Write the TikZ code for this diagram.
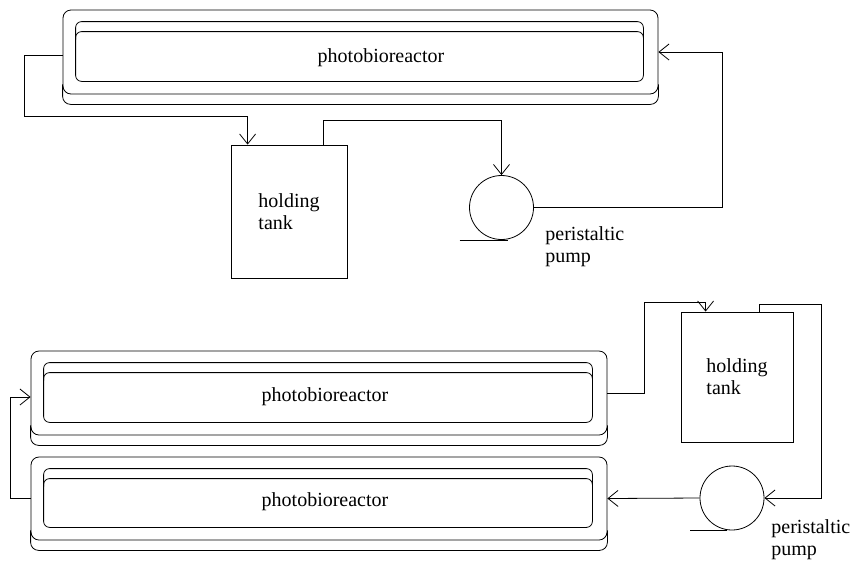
\documentclass[tikz,border=0pt]{standalone}
\usepackage{fontspec}
\setmainfont{Liberation Serif}
\usetikzlibrary{calc,arrows.meta}

\tikzset{
  reactor/.style={draw, rounded corners=8pt, inner sep=0pt, minimum height=84pt},
  tank/.style={draw, align=left, inner sep=0pt},
  pump/.style={draw, circle, minimum size=64pt, inner sep=0pt},
  lbl/.style={inner sep=0pt, align=left},
  flow/.style={-{Straight Barb[length=10pt,width=16pt]}}
}

\begin{document}
\begin{tikzpicture}[x=1pt,y=-1pt,line width=0.8pt,
  every node/.style={font=\fontsize{20}{22}\selectfont}]
\useasboundingbox (0,0) rectangle (854,566);

% first loop
\node (pbrA) [reactor, minimum width=595pt] at (360.5,52) {};
\node (pbrAtxt) [lbl] at (381,57.5) {photobioreactor};
\node (tankA) [tank, minimum width=116pt, minimum height=133pt] at (289,211.5) {holding\\tank};
\node (pumpA) [pump] at (501.5,207.5) {};
\node (pumpAtxt) [lbl, anchor=north west] at (545,226) {peristaltic\\pump};

% second loop
\node (pbrB) [reactor, minimum width=576pt] at (319,393) {};
\node (pbrBtxt) [lbl] at (325,397) {photobioreactor};
\node (pbrC) [reactor, minimum width=576pt, minimum height=83pt] at (319,498.5) {};
\node (pbrCtxt) [lbl] at (325,502) {photobioreactor};
\node (tankB) [tank, minimum width=112pt, minimum height=130pt] at (737,377) {holding\\tank};
\node (pumpB) [pump] at (732,498) {};
\node (pumpBtxt) [lbl, anchor=north west] at (771,519) {peristaltic\\pump};

% reactor tubes
\foreach \r in {pbrA,pbrB,pbrC}{
  \draw[rounded corners=8pt] ($(\r.south west)+(0,-10)$) |- ($(\r.south east)+(0,10)$) -- ($(\r.south east)+(0,-10)$);
  \draw[rounded corners=6pt] ($(\r.north west)+(13,22)$) rectangle ($(\r.south east)+(-15,-13)$);
  \draw[rounded corners=6pt] ($(\r.north west)+(13,30)$) |- ($(\r.north east)+(-15,12)$) -- ($(\r.north east)+(-15,30)$);
}

% pump feet
\draw ($(pumpA.south)+(-42,0)$) -- ($(pumpA.south)+(6,0)$);
\draw ($(pumpB.south)+(-42,0)$) -- ($(pumpB.south)+(-5,0)$);

% connectors
\coordinate (inA) at ($(tankA.north west)+(17,0)$);
\draw[flow] ($(pbrA.west)+(0,3)$) -- ++(-38,0) |- ($(inA)+(0,-28)$) -- (inA);
\draw[flow] ($(tankA.north east)+(-24,0)$) |- ($(pumpA.north)+(0,-55)$) -- (pumpA.north);
\draw[flow] (pumpA.east) -| ($(pbrA.east)+(64,0)$) -- (pbrA.east);

\coordinate (inB) at ($(tankB.north west)+(25,0)$);
\draw[flow] (pbrB.east) -- ++(37,0) |- ($(inB)+(0,-9)$) -- (inB);
\draw[flow] ($(tankB.north east)+(-34,0)$) -- ++(0,-7) -| ($(pumpB.east)+(57,0)$) -- (pumpB.east);
\draw[flow] (pumpB.west) -- (pbrC.east);
\draw[flow] (pbrC.west) -- ++(-20,0) |- ($(pbrB.west)+(0,4)$);
\end{tikzpicture}
\end{document}
